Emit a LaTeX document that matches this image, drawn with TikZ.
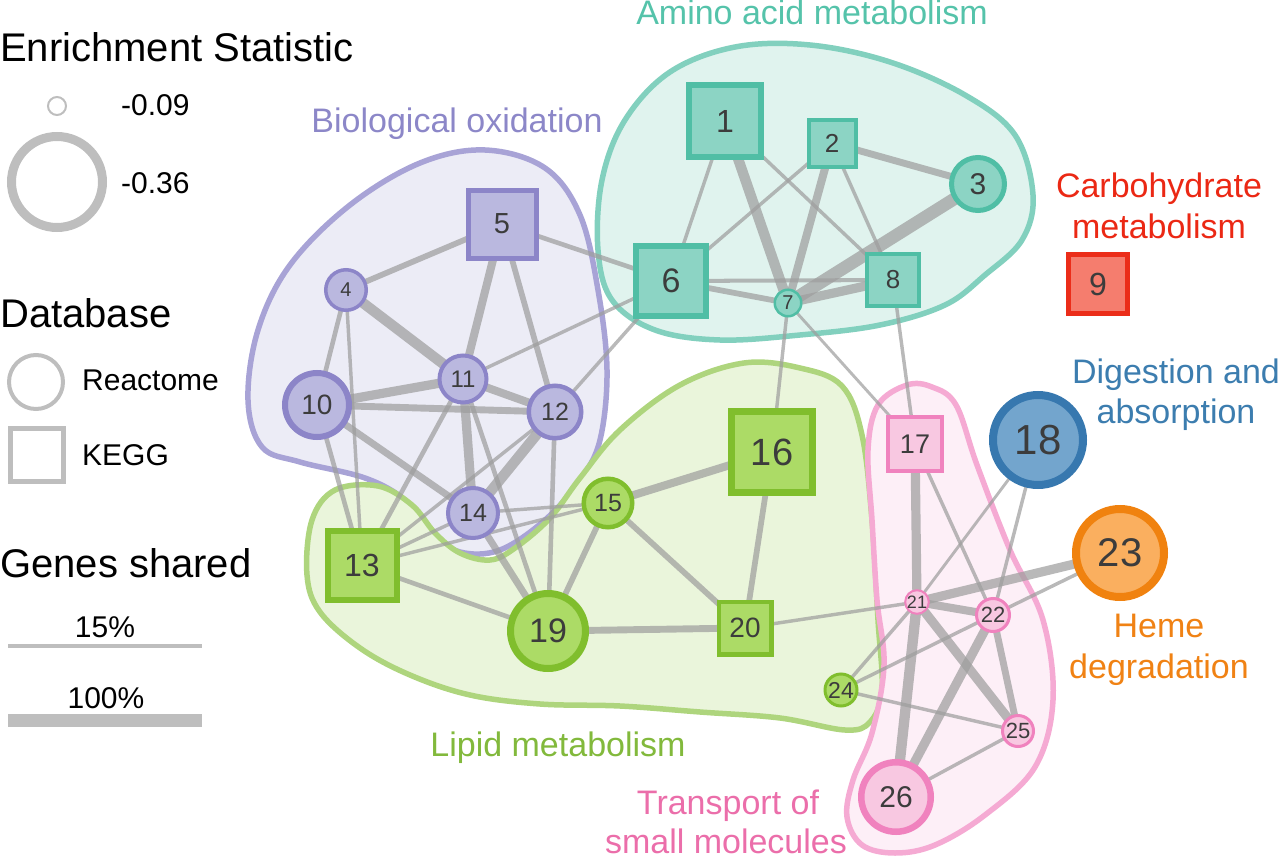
\documentclass[tikz,border=0pt]{standalone}
\usepackage{fontspec}
\setmainfont{Liberation Sans}
\pgfdeclarelayer{hullL}
\pgfdeclarelayer{edgeL}
\pgfsetlayers{hullL,edgeL,main}
\newcommand{\nfs}[1]{\fontsize{#1pt}{#1pt}\selectfont}
% node colours
\definecolor{tealF}{RGB}{140,212,196}
\definecolor{tealB}{RGB}{80,190,165}
\definecolor{purF}{RGB}{186,184,223}
\definecolor{purB}{RGB}{140,133,200}
\definecolor{grnF}{RGB}{172,219,102}
\definecolor{grnB}{RGB}{128,190,45}
\definecolor{pnkF}{RGB}{248,200,225}
\definecolor{pnkB}{RGB}{240,130,190}
\definecolor{redF}{RGB}{245,125,110}
\definecolor{redB}{RGB}{235,45,25}
\definecolor{bluF}{RGB}{115,165,205}
\definecolor{bluB}{RGB}{55,120,175}
\definecolor{orgF}{RGB}{250,175,95}
\definecolor{orgB}{RGB}{240,130,15}
% hull colours
\definecolor{tealH}{RGB}{224,243,238}
\definecolor{tealHB}{RGB}{130,208,190}
\definecolor{purH}{RGB}{236,236,246}
\definecolor{purHB}{RGB}{168,163,214}
\definecolor{grnH}{RGB}{234,245,219}
\definecolor{grnHB}{RGB}{174,213,125}
\definecolor{pnkH}{RGB}{253,239,247}
\definecolor{pnkHB}{RGB}{245,170,211}
% text colours
\definecolor{tealT}{RGB}{85,195,170}
\definecolor{purT}{RGB}{140,135,200}
\definecolor{redT}{RGB}{235,40,20}
\definecolor{bluT}{RGB}{60,125,175}
\definecolor{orgT}{RGB}{240,130,20}
\definecolor{grnT}{RGB}{130,185,60}
\definecolor{pnkT}{RGB}{235,110,170}
\definecolor{numtext}{RGB}{60,60,60}
\definecolor{edgegray}{RGB}{158,158,158}
\definecolor{leggray}{RGB}{190,190,190}
\tikzset{
  nbase/.style={inner sep=0pt, text=numtext},
  sqT/.style={nbase, rectangle, fill=tealF, draw=tealB},
  ciT/.style={nbase, circle, fill=tealF, draw=tealB},
  sqP/.style={nbase, rectangle, fill=purF, draw=purB},
  ciP/.style={nbase, circle, fill=purF, draw=purB},
  sqG/.style={nbase, rectangle, fill=grnF, draw=grnB},
  ciG/.style={nbase, circle, fill=grnF, draw=grnB},
  sqK/.style={nbase, rectangle, fill=pnkF, draw=pnkB},
  ciK/.style={nbase, circle, fill=pnkF, draw=pnkB},
  sqR/.style={nbase, rectangle, fill=redF, draw=redB},
  ciB/.style={nbase, circle, fill=bluF, draw=bluB},
  ciO/.style={nbase, circle, fill=orgF, draw=orgB},
  edge/.style={draw=edgegray, draw opacity=0.72, line cap=round},
  hullbase/.style={line width=5.5pt, line join=round},
  legtitle/.style={anchor=base west, inner sep=0pt, font=\nfs{40}, text=black},
  legitem/.style={anchor=base west, inner sep=0pt, font=\nfs{30}, text=black},
  legnum/.style={anchor=base, inner sep=0pt, font=\nfs{30}, text=black},
  clab/.style={anchor=base, inner sep=0pt, font=\nfs{34}},
}
\begin{document}
\begin{tikzpicture}[x=1pt,y=-1pt]
\useasboundingbox (0,0) rectangle (1280,859);

% ---------------- hulls ----------------
\begin{pgfonlayer}{hullL}
\draw[hullbase, fill=purH, draw=purHB] plot[smooth cycle, tension=0.6] coordinates {
 (248,400) (258,330) (290,265) (350,205) (420,163) (485,150) (545,168) (580,215)
 (598,290) (607,370) (600,440) (580,480) (545,520) (500,550) (460,552) (432,533)
 (405,500) (365,478) (300,462) (262,447)};
\draw[hullbase, fill=tealH, draw=tealHB] plot[smooth cycle, tension=0.6] coordinates {
 (598,250) (602,180) (625,120) (670,72) (735,47) (810,45) (890,62) (965,95)
 (1015,135) (1033,195) (1022,240) (985,275) (945,305) (880,325) (800,335)
 (720,340) (655,330) (612,300)};
\draw[hullbase, fill=grnH, draw=grnHB] plot[smooth cycle, tension=0.6] coordinates {
 (307,575) (312,520) (335,490) (378,486) (412,505) (435,533) (460,553) (490,560)
 (515,548) (550,518) (580,478) (620,430) (680,385) (744,363) (800,368) (842,386)
 (862,435) (872,520) (878,620) (882,690) (870,722) (845,730) (780,718) (700,712)
 (620,706) (540,704) (470,695) (410,675) (360,648) (320,612)};
\draw[hullbase, fill=pnkH, draw=pnkHB] plot[smooth cycle, tension=0.6] coordinates {
 (907,385) (878,405) (868,450) (872,520) (877,600) (884,665) (872,733) (853,780)
 (847,817) (862,845) (895,853) (935,845) (985,815) (1035,767) (1053,700)
 (1043,620) (1010,550) (977,465) (956,405) (932,387)};
\end{pgfonlayer}

% ---------------- nodes ----------------
\node[sqT, minimum size=72pt, line width=6pt, font=\nfs{32}] (n1) at (725,121) {1};
\node[sqT, minimum size=47pt, line width=4pt, font=\nfs{26}] (n2) at (832,143) {2};
\node[ciT, minimum size=53pt, line width=5pt, font=\nfs{30}] (n3) at (978,184) {3};
\node[ciP, minimum size=40.5pt, line width=3.5pt, font=\nfs{20}] (n4) at (346,290) {4};
\node[sqP, minimum size=68pt, line width=5pt, font=\nfs{29}] (n5) at (502,224) {5};
\node[sqT, minimum size=70pt, line width=6pt, font=\nfs{34}] (n6) at (671,281) {6};
\node[ciT, minimum size=26.5pt, line width=2.5pt, font=\nfs{20}] (n7) at (788,303) {7};
\node[sqT, minimum size=52pt, line width=4pt, font=\nfs{26}] (n8) at (893,280) {8};
\node[sqR, minimum size=59pt, line width=5pt, font=\nfs{32}] (n9) at (1098,284) {9};
\node[ciP, minimum size=64pt, line width=6pt, font=\nfs{28}] (n10) at (317,405) {10};
\node[ciP, minimum size=47pt, line width=4pt, font=\nfs{24}] (n11) at (463,379) {11};
\node[ciP, minimum size=52.5pt, line width=4.5pt, font=\nfs{25}] (n12) at (555,412) {12};
\node[sqG, minimum size=69pt, line width=6pt, font=\nfs{32}] (n13) at (362,565) {13};
\node[ciP, minimum size=50pt, line width=4pt, font=\nfs{25}] (n14) at (473,513) {14};
\node[ciG, minimum size=48.5pt, line width=4.5pt, font=\nfs{25}] (n15) at (608,503) {15};
\node[sqG, minimum size=81pt, line width=7pt, font=\nfs{38}] (n16) at (772,452) {16};
\node[sqK, minimum size=54pt, line width=4pt, font=\nfs{27}] (n17) at (915,444) {17};
\node[ciB, minimum size=90pt, line width=8pt, font=\nfs{42}] (n18) at (1038,440) {18};
\node[ciG, minimum size=75pt, line width=7pt, font=\nfs{34}] (n19) at (548,631) {19};
\node[sqG, minimum size=52.5pt, line width=4.5pt, font=\nfs{28}] (n20) at (745,628) {20};
\node[ciK, minimum size=20pt, line width=2pt, font=\nfs{18}] (n21) at (917,602) {21};
\node[ciK, minimum size=33pt, line width=3pt, font=\nfs{22}] (n22) at (993,615) {22};
\node[ciO, minimum size=88pt, line width=8pt, font=\nfs{40}] (n23) at (1120,553) {23};
\node[ciG, minimum size=32pt, line width=3pt, font=\nfs{23}] (n24) at (841,690) {24};
\node[ciK, minimum size=31pt, line width=3pt, font=\nfs{22}] (n25) at (1018,731) {25};
\node[ciK, minimum size=69.5pt, line width=6.5pt, font=\nfs{30}] (n26) at (896,797) {26};

% ---------------- edges ----------------
\begin{pgfonlayer}{edgeL}
\foreach \a/\b/\w in {1/6/3, 1/7/9, 1/8/3, 2/6/3, 2/7/7, 2/8/3, 2/3/6, 3/7/11,
  6/8/3.5, 6/7/5, 7/8/8, 5/6/4, 11/6/3, 12/6/3, 7/16/3, 7/17/2.5, 8/17/3,
  5/4/5, 5/11/7, 5/12/5, 4/11/9, 4/10/4, 4/13/3, 10/11/8, 10/12/6, 11/12/7,
  10/14/6, 10/13/4, 11/14/8, 11/19/4, 11/13/4, 12/14/9, 12/13/3, 12/19/4,
  13/14/3, 13/15/3, 14/15/3, 14/19/6, 13/19/4, 15/16/7, 15/19/5, 15/20/5,
  16/20/5, 19/20/6, 20/21/3, 17/21/8, 21/26/9, 17/22/3, 18/21/2.5, 18/22/3,
  23/21/8, 23/22/3, 21/22/7, 21/25/8, 22/25/6, 22/26/8, 25/26/3, 24/21/3,
  24/22/3, 24/25/3}
  \draw[edge, line width={1.15*\w pt}] (n\a.center) -- (n\b.center);
\end{pgfonlayer}

% ---------------- cluster labels ----------------
\node[clab, text=tealT] (lamino) at (812,25) {Amino acid metabolism};
\node[clab, text=purT] (lbio) at (457,132) {Biological oxidation};
\node[clab, text=redT] (lcarb1) at (1159,197) {Carbohydrate};
\node[clab, text=redT] (lcarb2) at (1159,238) {metabolism};
\node[clab, text=bluT] (ldig1) at (1176,383) {Digestion and};
\node[clab, text=bluT] (ldig2) at (1176,423) {absorption};
\node[clab, text=orgT] (lheme1) at (1159,637) {Heme};
\node[clab, text=orgT] (lheme2) at (1159,678) {degradation};
\node[clab, text=grnT] (llip) at (558,756) {Lipid metabolism};
\node[clab, text=pnkT] (ltra1) at (728,814) {Transport of};
\node[clab, text=pnkT] (ltra2) at (726,853) {small molecules};

% ---------------- legend ----------------
\node[legtitle] (ttl1) at (0,62) {Enrichment Statistic};
\node[circle, draw=leggray, fill=white, line width=2pt, minimum size=18pt, inner sep=0pt] (lgs) at (57,106) {};
\node[legitem] (tv1) at (121,115) {-0.09};
\node[circle, draw=leggray, line width=9pt, minimum size=91pt, inner sep=0pt] (lgb) at (57,182) {};
\node[legitem] (tv2) at (121,193) {-0.36};
\node[legtitle] (ttl2) at (0,327) {Database};
\node[circle, draw=leggray, line width=4pt, minimum size=54pt, inner sep=0pt] (lgr) at (36,382) {};
\node[legitem] (tre) at (82,390) {Reactome};
\node[rectangle, draw=leggray, line width=5pt, minimum size=53pt, inner sep=0pt] (lgk) at (37,455) {};
\node[legitem] (tke) at (82,465) {KEGG};
\node[legtitle] (ttl3) at (0,577) {Genes shared};
\node[legnum] (t15) at (105,637) {15\%};
\coordinate (l1a) at (8,646);
\coordinate (l1b) at (202,646);
\draw[leggray, line width=4pt] (l1a) -- (l1b);
\node[legnum] (t100) at (106,708) {100\%};
\coordinate (l2a) at (8,720);
\coordinate (l2b) at (202,720);
\draw[leggray, line width=13pt] (l2a) -- (l2b);
\end{tikzpicture}
\end{document}
